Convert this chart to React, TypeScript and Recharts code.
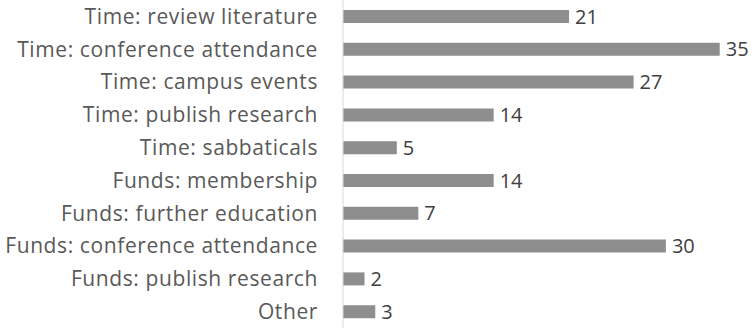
import { Bar, BarChart, LabelList, XAxis, YAxis } from 'recharts'

const categories = [
  'Time: review literature',
  'Time: conference attendance',
  'Time: campus events',
  'Time: publish research',
  'Time: sabbaticals',
  'Funds: membership',
  'Funds: further education',
  'Funds: conference attendance',
  'Funds: publish research',
  'Other',
]

const counts = [21, 35, 27, 14, 5, 14, 7, 30, 2, 3]

const data = categories.map((name, i) => ({ name, count: counts[i] }))

const font = '"Open Sans", sans-serif'

export default function App() {
  return (
    <div style={{ position: 'absolute', left: 0, top: 0, background: '#fff' }}>
      <BarChart
        width={752}
        height={328}
        data={data}
        layout="vertical"
        margin={{ top: 0, right: 0, bottom: 0, left: 0 }}
        barSize={13}
      >
        <XAxis type="number" domain={[0, 38]} hide />
        <YAxis
          type="category"
          dataKey="name"
          width={343}
          tickSize={0}
          tickMargin={25}
          tickLine={false}
          axisLine={{ stroke: '#d9d9d9' }}
          interval={0}
          tick={{ fontSize: 21, fill: '#595959', fontFamily: font, letterSpacing: 0.6 }}
        />
        <Bar dataKey="count" fill="#8e8e8e" isAnimationActive={false}>
          <LabelList
            dataKey="count"
            position="right"
            offset={6}
            style={{ fontSize: 20, fill: '#404040', fontFamily: font }}
          />
        </Bar>
      </BarChart>
    </div>
  )
}
